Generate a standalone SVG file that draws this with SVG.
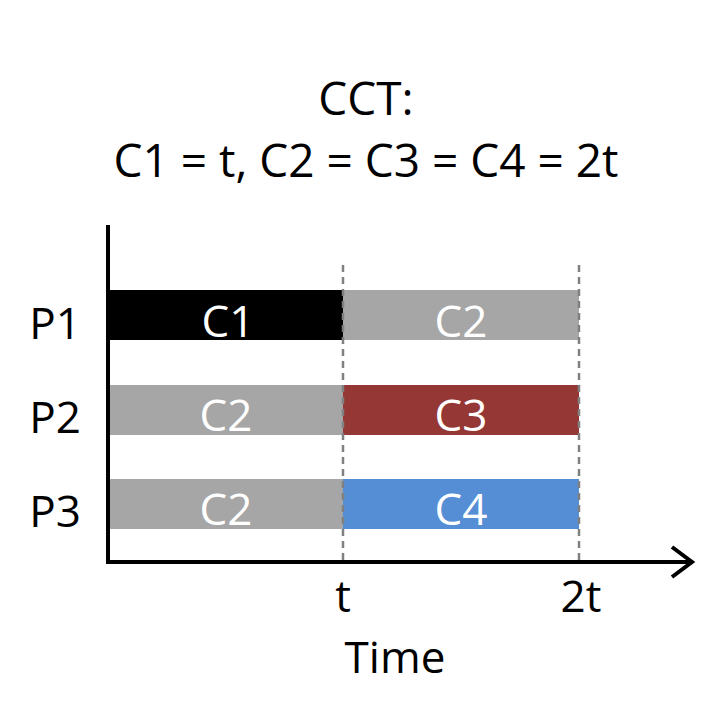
<svg xmlns="http://www.w3.org/2000/svg" width="720" height="706" viewBox="0 0 720 706">
<style>
text{font-family:"Open Sans","Liberation Sans",sans-serif;font-size:44px;text-anchor:middle}
.t{font-size:46px}
.w{fill:#fff}
.k{fill:#000}
.d{stroke:#808080;stroke-width:2.5;stroke-dasharray:7,5}
</style>
<rect width="720" height="706" fill="#fff"/>
<g id="title">
<text x="366" y="115" class="k t">CCT:</text>
<text x="366" y="177" class="k t">C1 = t, C2 = C3 = C4 = 2t</text>
</g>
<g id="P1">
<text x="55" y="339">P1</text>
<rect x="108" y="290" width="235" height="50" fill="#000"/>
<text x="228" y="337" class="w">C1</text>
<rect x="343" y="290" width="236" height="50" fill="#a6a6a6"/>
<text x="461" y="337" class="w">C2</text>
</g>
<g id="P2">
<text x="55" y="433">P2</text>
<rect x="108" y="385" width="235" height="50" fill="#a6a6a6"/>
<text x="226" y="431" class="w">C2</text>
<rect x="343" y="385" width="236" height="50" fill="#953735"/>
<text x="461" y="431" class="w">C3</text>
</g>
<g id="P3">
<text x="55" y="527">P3</text>
<rect x="108" y="479" width="235" height="50" fill="#a6a6a6"/>
<text x="226" y="525" class="w">C2</text>
<rect x="343" y="479" width="236" height="50" fill="#558ed5"/>
<text x="461" y="525" class="w">C4</text>
</g>
<g id="connectors">
<line x1="343" y1="265" x2="343" y2="562" class="d"/>
<line x1="579" y1="265" x2="579" y2="562" class="d"/>
<line x1="108" y1="225" x2="108" y2="563" stroke="#000" stroke-width="4"/>
<line x1="106" y1="562" x2="690" y2="562" stroke="#000" stroke-width="4"/>
<polyline points="672,547 692,562 672,577" fill="none" stroke="#000" stroke-width="4"/>
</g>
<g id="axis-labels">
<text x="343" y="612">t</text>
<text x="581" y="612">2t</text>
<text x="395" y="673">Time</text>
</g>
</svg>
